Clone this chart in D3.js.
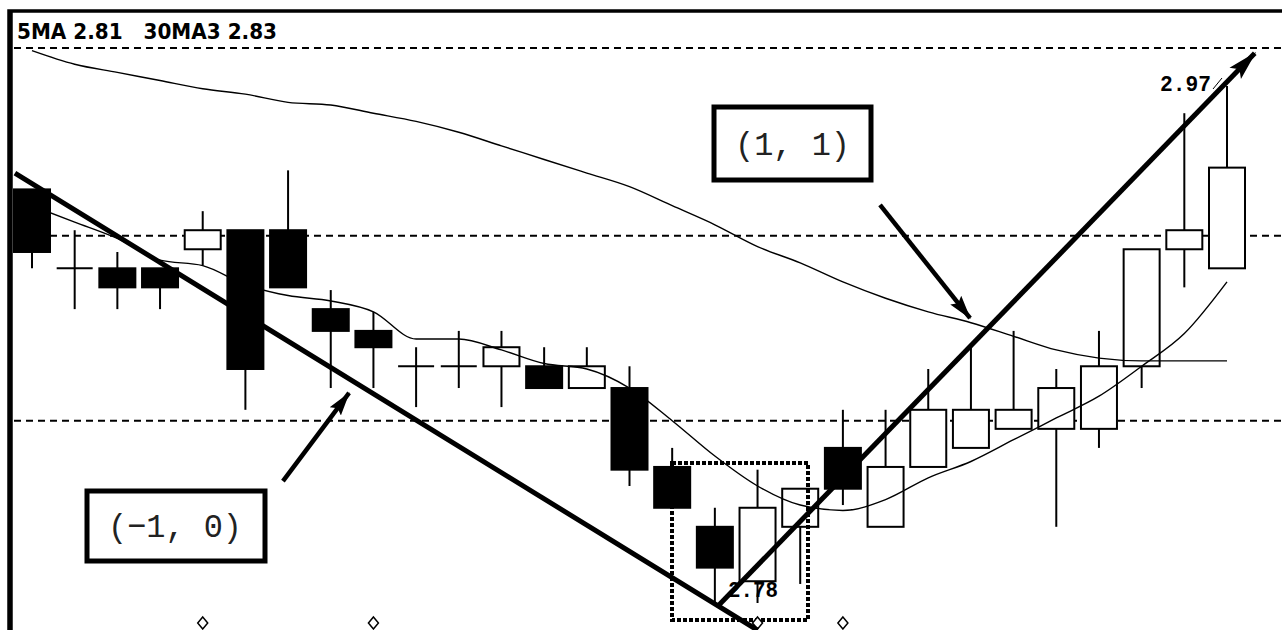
<!DOCTYPE html>
<html><head><meta charset="utf-8">
<script src="https://cdn.jsdelivr.net/npm/d3@7/dist/d3.min.js"></script>
<style>html,body{margin:0;padding:0;background:#fff;}svg{display:block;}</style>
</head><body>
<svg id="chart" width="1282" height="630"></svg>
<script>
// ---------- data ----------
const candleNo = d3.range(1, 30);
const opens  = [2.932,2.903,2.903,2.903,2.910,2.917,2.917,2.888,2.880,2.867,2.867,2.867,2.867,2.859,2.859,2.830,2.808,2.788,2.808,2.837,2.808,2.830,2.837,2.844,2.844,2.844,2.867,2.910,2.903];
const highs  = [2.932,2.917,2.909,2.903,2.924,2.917,2.939,2.895,2.887,2.874,2.880,2.880,2.874,2.874,2.867,2.837,2.815,2.829,2.822,2.851,2.851,2.866,2.874,2.880,2.866,2.880,2.910,2.960,2.970];
const lows   = [2.903,2.888,2.888,2.888,2.904,2.851,2.896,2.859,2.859,2.852,2.859,2.852,2.859,2.859,2.823,2.815,2.780,2.780,2.787,2.816,2.808,2.830,2.837,2.844,2.808,2.837,2.859,2.896,2.903];
const closes = [2.909,2.903,2.896,2.896,2.917,2.866,2.896,2.880,2.874,2.867,2.867,2.874,2.859,2.867,2.829,2.815,2.793,2.815,2.822,2.822,2.830,2.851,2.851,2.851,2.859,2.867,2.910,2.917,2.940];
const ma5    = [2.926,2.920,2.914,2.906,2.904,2.897,2.893,2.891,2.887,2.877,2.877,2.873,2.868,2.866,2.859,2.847,2.834,2.823,2.816,2.814,2.818,2.826,2.832,2.840,2.848,2.856,2.867,2.879,2.898];
const ma30   = [2.983,2.978,2.975,2.972,2.969,2.967,2.964,2.963,2.960,2.957,2.953,2.948,2.943,2.938,2.933,2.926,2.919,2.911,2.905,2.898,2.892,2.887,2.883,2.878,2.873,2.870,2.869,2.869,2.869];
const gridPrices = [2.984, 2.915, 2.847];
const markerCandles = [5, 9, 18, 20];
const headerText = "5MA 2.81   30MA3 2.83";
const highLabel = "2.97";
const lowLabel = "2.78";
// trend lines (candle position, price)
const trendDownIdx = [-0.40, 17.0],  trendDownPrice = [2.938, 2.770];
const trendUpIdx   = [16.05, 28.65], trendUpPrice   = [2.7785, 2.982];
// callout arrows (candle position, price)
const arrowA_Idx = [5.88, 7.43],  arrowA_Price = [2.8248, 2.8572];
const arrowB_Idx = [19.87, 21.98], arrowB_Price = [2.9263, 2.8847];
const calloutTexts = ["(\u22121, 0)", "(1, 1)"];

// ---------- scales ----------
const svg = d3.select("#chart");
const x = d3.scaleLinear().domain([0, 28]).range([32, 1227]);
const y = d3.scaleLinear().domain([2.78, 2.97]).range([603, 86]);
const bw = 36;

// defs
const defs = svg.append("defs");
defs.append("marker").attr("id","headBig").attr("viewBox","0 0 30 20").attr("refX",28).attr("refY",10)
  .attr("markerWidth",30).attr("markerHeight",20).attr("markerUnits","userSpaceOnUse").attr("orient","auto")
  .append("path").attr("d","M0,2 L30,10 L0,18 L6,10 Z").attr("fill","#000");
defs.append("marker").attr("id","headSmall").attr("viewBox","0 0 24 16").attr("refX",23).attr("refY",8)
  .attr("markerWidth",24).attr("markerHeight",16).attr("markerUnits","userSpaceOnUse").attr("orient","auto")
  .append("path").attr("d","M0,1 L24,8 L0,15 L4,8 Z").attr("fill","#000");

// frame
svg.append("rect").attr("x",9).attr("y",11).attr("width",1290).attr("height",640)
  .attr("fill","none").attr("stroke","#000").attr("stroke-width",3.5);
svg.append("line").attr("x1",10.5).attr("x2",10.5).attr("y1",10).attr("y2",630).attr("stroke","#000").attr("stroke-width",4.5);

// grid
svg.append("g").selectAll("line").data(gridPrices).join("line")
  .attr("x1",14).attr("x2",1282).attr("y1",d=>y(d)).attr("y2",d=>y(d))
  .attr("stroke","#000").attr("stroke-width",2).attr("stroke-dasharray","7,5");

// header
svg.append("text").attr("x",17).attr("y",39).text(headerText).style("white-space","pre")
  .attr("font-family","'DejaVu Sans Condensed','DejaVu Sans',sans-serif").attr("font-stretch","condensed")
  .attr("font-weight","bold").attr("font-size",22).attr("textLength",260).attr("lengthAdjust","spacingAndGlyphs");

// candles
const data = candleNo.map((n,i)=>({n,i,o:opens[i],h:highs[i],l:lows[i],c:closes[i]}));
const cg = svg.append("g");
cg.selectAll("line.wick").data(data).join("line").attr("class","wick")
  .attr("x1",d=>x(d.i)).attr("x2",d=>x(d.i)).attr("y1",d=>y(d.h)).attr("y2",d=>y(d.l))
  .attr("stroke","#000").attr("stroke-width",2);
cg.selectAll("rect.body").data(data.filter(d=>d.o!==d.c)).join("rect").attr("class","body")
  .attr("x",d=>x(d.i)-bw/2).attr("width",bw)
  .attr("y",d=>y(Math.max(d.o,d.c))).attr("height",d=>Math.abs(y(d.o)-y(d.c)))
  .attr("fill",d=>d.c<d.o?"#000":"#fff").attr("stroke","#000").attr("stroke-width",2);
cg.selectAll("line.doji").data(data.filter(d=>d.o===d.c)).join("line").attr("class","doji")
  .attr("x1",d=>x(d.i)-bw/2).attr("x2",d=>x(d.i)+bw/2).attr("y1",d=>y(d.o)).attr("y2",d=>y(d.o))
  .attr("stroke","#000").attr("stroke-width",2);

// MA lines
const lineGen = d3.line().x((d,i)=>x(i)).y(d=>y(d)).curve(d3.curveMonotoneX);
svg.append("path").datum(ma30).attr("d",lineGen).attr("fill","none").attr("stroke","#000").attr("stroke-width",1.4);
svg.append("path").datum(ma5).attr("d",lineGen).attr("fill","none").attr("stroke","#000").attr("stroke-width",1.4);

// dotted box around bottom
svg.append("rect").attr("x",672).attr("y",463).attr("width",136).attr("height",157)
  .attr("fill","none").attr("stroke","#000").attr("stroke-width",4).attr("stroke-dasharray","4,2");

// labels
const monoB = "'Liberation Mono','DejaVu Sans Mono',monospace";
svg.append("text").attr("x",x(28)-16).attr("y",91).attr("text-anchor","end").text(highLabel)
  .attr("font-family",monoB).attr("font-weight","bold").attr("font-size",22).attr("textLength",51).attr("lengthAdjust","spacingAndGlyphs");
svg.append("line").attr("x1",x(28)-14).attr("y1",89).attr("x2",x(28)-5).attr("y2",78).attr("stroke","#000").attr("stroke-width",1);
svg.append("text").attr("x",753).attr("y",597).attr("text-anchor","middle").text(lowLabel)
  .attr("font-family",monoB).attr("font-weight","bold").attr("font-size",22).attr("textLength",50).attr("lengthAdjust","spacingAndGlyphs");

// diamonds
svg.append("g").selectAll("path").data(markerCandles).join("path")
  .attr("transform",n=>`translate(${x(n-1)},623)`)
  .attr("d","M0,-6 L5,0 L0,6 L-5,0 Z").attr("fill","#fff").attr("stroke","#000").attr("stroke-width",1.5);

// trend lines
svg.append("line").attr("x1",x(trendDownIdx[0])).attr("y1",y(trendDownPrice[0]))
  .attr("x2",x(trendDownIdx[1])).attr("y2",y(trendDownPrice[1])).attr("stroke","#000").attr("stroke-width",5);
svg.append("line").attr("x1",x(trendUpIdx[0])).attr("y1",y(trendUpPrice[0]))
  .attr("x2",x(trendUpIdx[1])).attr("y2",y(trendUpPrice[1])).attr("stroke","#000").attr("stroke-width",5)
  .attr("marker-end","url(#headBig)");

// callout arrows
svg.append("line").attr("x1",x(arrowA_Idx[0])).attr("y1",y(arrowA_Price[0]))
  .attr("x2",x(arrowA_Idx[1])).attr("y2",y(arrowA_Price[1])).attr("stroke","#000").attr("stroke-width",4.5)
  .attr("marker-end","url(#headSmall)");
svg.append("line").attr("x1",x(arrowB_Idx[0])).attr("y1",y(arrowB_Price[0]))
  .attr("x2",x(arrowB_Idx[1])).attr("y2",y(arrowB_Price[1])).attr("stroke","#000").attr("stroke-width",4.5)
  .attr("marker-end","url(#headSmall)");

// callout boxes
const boxes = [
  {t:calloutTexts[0], x:87, y:491, w:178, h:70, tx:108, tw:134},
  {t:calloutTexts[1], x:714, y:107, w:157, h:73, tx:735, tw:115}
];
const bg = svg.append("g").selectAll("g").data(boxes).join("g");
bg.append("rect").attr("x",d=>d.x).attr("y",d=>d.y).attr("width",d=>d.w).attr("height",d=>d.h)
  .attr("fill","#fff").attr("stroke","#000").attr("stroke-width",5);
bg.append("text").attr("x",d=>d.tx).attr("y",d=>d.y+d.h/2+11).text(d=>d.t).style("white-space","pre")
  .attr("font-family","'Liberation Mono','DejaVu Sans Mono',monospace").attr("font-size",34)
  .attr("textLength",d=>d.tw).attr("lengthAdjust","spacingAndGlyphs").attr("fill","#222");
</script>
</body></html>
